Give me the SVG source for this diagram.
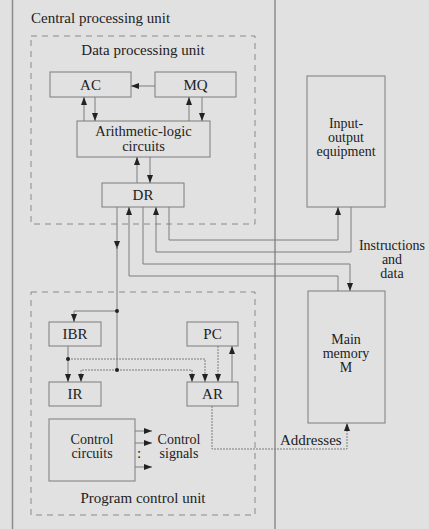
<svg xmlns="http://www.w3.org/2000/svg" width="429" height="529" viewBox="0 0 429 529">
<defs>
<marker id="ah" viewBox="0 0 8 8" refX="8" refY="4" markerWidth="8" markerHeight="8" markerUnits="userSpaceOnUse" orient="auto">
<path d="M0,1 L8,4 L0,7 Z" fill="#222"/>
</marker>
</defs>
<rect width="429" height="529" fill="#e1e1e1"/>
<line stroke="#8c8c8c" stroke-width="1.5" x1="12.5" y1="0" x2="12.5" y2="529"/>
<line stroke="#8c8c8c" stroke-width="1.5" x1="275" y1="0" x2="275" y2="529"/>

<text style="font-family:'Liberation Serif',serif;font-size:15px" fill="#222" x="31" y="23">Central processing unit</text>

<g id="data-processing-unit">
<rect fill="none" stroke="#8a8a8a" stroke-dasharray="6,5" x="31" y="36" width="224" height="188"/>
<text style="font-family:'Liberation Serif',serif;font-size:15px" fill="#222" text-anchor="middle" x="143" y="55">Data processing unit</text>
</g>
<g id="program-control-unit">
<rect fill="none" stroke="#8a8a8a" stroke-dasharray="6,5" x="31" y="292" width="224" height="223"/>
<text style="font-family:'Liberation Serif',serif;font-size:15px" fill="#222" text-anchor="middle" x="143" y="503">Program control unit</text>
</g>

<g id="AC"><rect fill="none" stroke="#7c7c7c" x="50" y="72" width="81" height="25"/><text style="font-family:'Liberation Serif',serif;font-size:15px" fill="#222" text-anchor="middle" x="90.5" y="90">AC</text></g>
<g id="MQ"><rect fill="none" stroke="#7c7c7c" x="155" y="72" width="81" height="25"/><text style="font-family:'Liberation Serif',serif;font-size:15px" fill="#222" text-anchor="middle" x="195.5" y="90">MQ</text></g>
<g id="ALU"><rect fill="none" stroke="#7c7c7c" x="77" y="121" width="133" height="36"/><text style="font-family:'Liberation Serif',serif;font-size:14.5px" fill="#222" text-anchor="middle" x="143.5" y="136">Arithmetic-logic</text><text style="font-family:'Liberation Serif',serif;font-size:14.5px" fill="#222" text-anchor="middle" x="143.5" y="151">circuits</text></g>
<g id="DR"><rect fill="none" stroke="#7c7c7c" x="102" y="183" width="82" height="24"/><text style="font-family:'Liberation Serif',serif;font-size:15px" fill="#222" text-anchor="middle" x="143" y="200">DR</text></g>
<g id="IO"><rect fill="none" stroke="#7c7c7c" x="307" y="76" width="78" height="131"/><text style="font-family:'Liberation Serif',serif;font-size:14px" fill="#222" text-anchor="middle" x="346" y="128">Input-</text><text style="font-family:'Liberation Serif',serif;font-size:14px" fill="#222" text-anchor="middle" x="346" y="142">output</text><text style="font-family:'Liberation Serif',serif;font-size:14px" fill="#222" text-anchor="middle" x="346" y="156">equipment</text></g>
<g id="M"><rect fill="none" stroke="#7c7c7c" x="308" y="291" width="77" height="132"/><text style="font-family:'Liberation Serif',serif;font-size:14px" fill="#222" text-anchor="middle" x="346" y="344">Main</text><text style="font-family:'Liberation Serif',serif;font-size:14px" fill="#222" text-anchor="middle" x="346" y="358">memory</text><text style="font-family:'Liberation Serif',serif;font-size:14px" fill="#222" text-anchor="middle" x="346" y="372">M</text></g>
<g id="IBR"><rect fill="none" stroke="#7c7c7c" x="49" y="322" width="52" height="24"/><text style="font-family:'Liberation Serif',serif;font-size:15px" fill="#222" text-anchor="middle" x="75" y="339">IBR</text></g>
<g id="PC"><rect fill="none" stroke="#7c7c7c" x="187" y="322" width="51" height="24"/><text style="font-family:'Liberation Serif',serif;font-size:15px" fill="#222" text-anchor="middle" x="212.5" y="339">PC</text></g>
<g id="IR"><rect fill="none" stroke="#7c7c7c" x="49" y="382" width="52" height="24"/><text style="font-family:'Liberation Serif',serif;font-size:15px" fill="#222" text-anchor="middle" x="75" y="399">IR</text></g>
<g id="AR"><rect fill="none" stroke="#7c7c7c" x="187" y="382" width="51" height="24"/><text style="font-family:'Liberation Serif',serif;font-size:15px" fill="#222" text-anchor="middle" x="212.5" y="399">AR</text></g>
<g id="control-circuits"><rect fill="none" stroke="#7c7c7c" x="49" y="419" width="86" height="62"/><text style="font-family:'Liberation Serif',serif;font-size:14px" fill="#222" text-anchor="middle" x="92" y="444">Control</text><text style="font-family:'Liberation Serif',serif;font-size:14px" fill="#222" text-anchor="middle" x="92" y="458">circuits</text></g>

<g id="connectors" fill="none" stroke="#7c7c7c" stroke-width="1">
<path marker-end="url(#ah)" d="M155,86 H131"/>
<path marker-end="url(#ah)" d="M84,121 V97"/>
<path marker-end="url(#ah)" d="M95,97 V121"/>
<path marker-end="url(#ah)" d="M189,121 V97"/>
<path marker-end="url(#ah)" d="M202,97 V121"/>
<path marker-end="url(#ah)" d="M137,183 V157"/>
<path marker-end="url(#ah)" d="M150,157 V183"/>
<path marker-end="url(#ah)" d="M117,207 V249"/>
<path d="M117,246 V370"/>
<path marker-end="url(#ah)" d="M169,207 V240 H338 V207"/>
<path marker-end="url(#ah)" d="M351,207 V252 H156 V207"/>
<path marker-end="url(#ah)" d="M143,207 V264 H350 V291"/>
<path marker-end="url(#ah)" d="M338,291 V276 H129 V207"/>
<path marker-end="url(#ah)" d="M117,311 H74 V322"/>
<path marker-end="url(#ah)" d="M68,346 V382"/>
<path marker-end="url(#ah)" stroke-dasharray="2,1" d="M68,359 H205 V382"/>
<path marker-end="url(#ah)" stroke-dasharray="2,1" d="M117,370 H81 V382"/>
<path marker-end="url(#ah)" stroke-dasharray="2,1" d="M117,370 H192 V382"/>
<path marker-end="url(#ah)" stroke-dasharray="2,1" d="M218,346 V382"/>
<path marker-end="url(#ah)" d="M232,382 V346"/>
<path marker-end="url(#ah)" stroke-dasharray="2,1" d="M212,406 V449 H347 V423"/>
<path marker-end="url(#ah)" d="M135,431 H152"/>
<path marker-end="url(#ah)" d="M135,443 H152"/>
<path marker-end="url(#ah)" d="M135,467 H152"/>
<circle cx="117" cy="311" r="2" fill="#222" stroke="none"/>
<circle cx="68" cy="359" r="2" fill="#222" stroke="none"/>
<circle cx="117" cy="370" r="2" fill="#222" stroke="none"/>
</g>

<text style="font-family:'Liberation Serif',serif;font-size:15px" fill="#222" x="137" y="458">:</text>
<text style="font-family:'Liberation Serif',serif;font-size:14px" fill="#222" text-anchor="middle" x="179" y="444">Control</text>
<text style="font-family:'Liberation Serif',serif;font-size:14px" fill="#222" text-anchor="middle" x="179" y="458">signals</text>
<text style="font-family:'Liberation Serif',serif;font-size:14px" fill="#222" text-anchor="middle" x="392" y="250">Instructions</text>
<text style="font-family:'Liberation Serif',serif;font-size:14px" fill="#222" text-anchor="middle" x="392" y="264">and</text>
<text style="font-family:'Liberation Serif',serif;font-size:14px" fill="#222" text-anchor="middle" x="392" y="278">data</text>
<text style="font-family:'Liberation Serif',serif;font-size:15px" fill="#222" x="280" y="445">Addresses</text>
</svg>
